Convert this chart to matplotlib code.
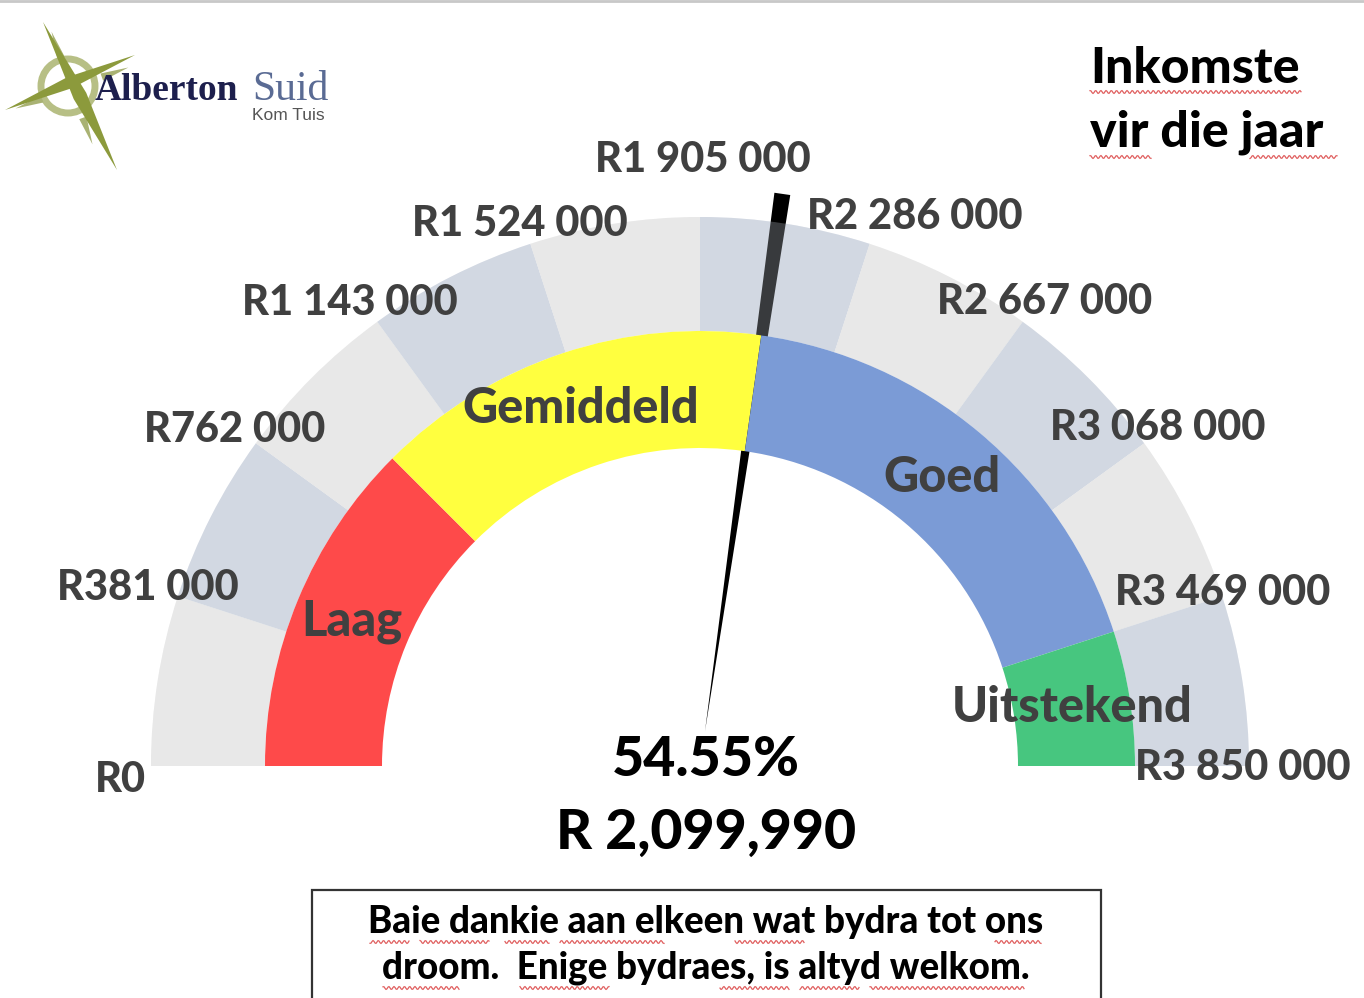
import numpy as np
import matplotlib.pyplot as plt
from matplotlib.patches import Wedge, Polygon, Rectangle, Circle

plt.rcParams['font.family'] = ['Lato', 'DejaVu Sans']

# data
TICK_FRACS = [0.0, 0.1, 0.2, 0.3, 0.4, 0.5, 0.6, 0.7, 0.8, 0.9, 1.0]
TICK_LABELS = ["R0", "R381 000", "R762 000", "R1 143 000", "R1 524 000", "R1 905 000",
               "R2 286 000", "R2 667 000", "R3 068 000", "R3 469 000", "R3 850 000"]
BAND_NAMES = ["Laag", "Gemiddeld", "Goed", "Uitstekend"]
BAND_EDGES = [0.0, 0.25, 0.545, 0.90, 1.0]
BAND_COLORS = ["#fe4a4a", "#ffff3f", "#7b9bd6", "#47c67f"]
PCT = 54.55
RAISED = "R 2,099,990"

# layout (pixel-like units, y measured up)
H = 998
CX, CY = 700, H - 766
R_IN, R_MID, R_OUT = 318, 435, 549
LABEL_R = 585
NUDGE = [(5, -14), (4, -3), (8, -8), (-6, -10), (1, -14), (3, 21),
         (34, -7), (1, -9), (-16, -6), (-34, -8), (-42, -2)]
GREYS = ["#e8e8e8", "#d2d8e2"]
W = 900


def ang(f):
    return 180.0 - 180.0 * f


def pol(r, a):
    t = np.radians(a)
    return CX + r * np.cos(t), CY + r * np.sin(t)


fig = plt.figure(figsize=(13.64, 9.98), dpi=100)
ax = fig.add_axes([0, 0, 1, 1])
ax.set_xlim(0, 1364)
ax.set_ylim(0, H)
ax.axis('off')

# top rule
ax.plot([0, 1364], [H - 1, H - 1], color="#c8c8c8", lw=2)

# grey scale ring
for i in range(10):
    a1, a0 = ang(TICK_FRACS[i]), ang(TICK_FRACS[i + 1])
    ax.add_patch(Wedge((CX, CY), R_OUT, a0, a1, width=R_OUT - R_MID,
                       facecolor=GREYS[i % 2], edgecolor='none', zorder=1))

# needle
va = ang(PCT / 100)
t = np.radians(va)
px, py = -np.sin(t), np.cos(t)
bx, by = pol(35, va)
tx, ty = pol(578, va)
ax.add_patch(Polygon([(bx, by), (tx + 8 * px, ty + 8 * py), (tx - 8 * px, ty - 8 * py)],
                     closed=True, facecolor='black', edgecolor='none', zorder=3))

# translucent grey over needle inside the scale ring
for i in range(10):
    a1, a0 = ang(TICK_FRACS[i]), ang(TICK_FRACS[i + 1])
    ax.add_patch(Wedge((CX, CY), R_OUT, a0, a1, width=R_OUT - R_MID,
                       facecolor=GREYS[i % 2], edgecolor='none', alpha=0.27, zorder=4))

# coloured bands
for i, name in enumerate(BAND_NAMES):
    a1, a0 = ang(BAND_EDGES[i]), ang(BAND_EDGES[i + 1])
    ax.add_patch(Wedge((CX, CY), R_MID, a0, a1, width=R_MID - R_IN,
                       facecolor=BAND_COLORS[i], edgecolor='none', zorder=5))
    mx, my = pol((R_MID + R_IN) / 2, ang((BAND_EDGES[i] + BAND_EDGES[i + 1]) / 2))
    ax.text(mx, my, name, ha='center', va='center', fontsize=35, fontweight=W,
            color='#404040', zorder=7)

# tick labels
for f, lab, (dx, dy) in zip(TICK_FRACS, TICK_LABELS, NUDGE):
    x, y = pol(LABEL_R, ang(f))
    ax.text(x + dx, y + dy, lab, ha='center', va='center', fontsize=30,
            fontweight=W, color='#404040', zorder=7)

# centre values
ax.text(706, H - 760, f"{PCT:.2f}%", ha='center', va='center', fontsize=40,
        fontweight=W, color='black', zorder=7)
ax.text(706, H - 833, RAISED, ha='center', va='center', fontsize=40,
        fontweight=W, color='black', zorder=7)

# title
ax.text(1090, H - 68, "Inkomste", ha='left', va='center', fontsize=36,
        fontweight=W, color='black')
ax.text(1090, H - 132, "vir die jaar", ha='left', va='center', fontsize=36,
        fontweight=W, color='black')


def wavy(x0, x1, y):
    xs = np.arange(x0, x1, 1.0)
    ax.plot(xs, y + 1.5 * np.sin(xs * 1.2), color='#e06060', lw=0.9, zorder=8)


wavy(1090, 1302, H - 92)
wavy(1090, 1152, H - 157)
wavy(1250, 1338, H - 157)

# message box
ax.add_patch(Rectangle((312, -5), 789, H - 890 + 5, facecolor='white',
                       edgecolor='#333333', lw=1.6, zorder=6))
ax.text(706, H - 922, "Baie dankie aan elkeen wat bydra tot ons", ha='center',
        va='center', fontsize=26.5, fontweight=W, color='black', zorder=7)
ax.text(706, H - 968, "droom.  Enige bydraes, is altyd welkom.", ha='center',
        va='center', fontsize=26.5, fontweight=W, color='black', zorder=7)
for x0, x1 in [(370, 410), (420, 490), (505, 550), (560, 665), (735, 805), (995, 1042)]:
    wavy(x0, x1, H - 942)
for x0, x1 in [(383, 460), (520, 610), (720, 790), (800, 860), (870, 1025)]:
    wavy(x0, x1, H - 988)

# logo
OLIVE = "#8c9a3c"
ax.add_patch(Circle((68, H - 86), 27, facecolor='none', edgecolor='#b7bf85', lw=5, zorder=2))
for (x0, y0), (x1, y1), w in [((43, 22), (117, 170), 7), ((5, 110), (135, 55), 6)]:
    mx, my = (x0 + x1) / 2, (y0 + y1) / 2
    dx, dy = x1 - x0, y1 - y0
    n = np.hypot(dx, dy)
    nx, ny = -dy / n * w, dx / n * w
    ax.add_patch(Polygon([(x0, H - y0), (mx + nx, H - (my + ny)), (x1, H - y1),
                          (mx - nx, H - (my - ny))], closed=True,
                         facecolor=OLIVE, edgecolor='none', zorder=3))
for a in [20, 110, 200, 290]:
    t = np.radians(a)
    ox, oy = 72, H - 88
    tip = (ox + 60 * np.cos(t), oy + 60 * np.sin(t))
    b1 = (ox + 32 * np.cos(t + 0.12), oy + 32 * np.sin(t + 0.12))
    b2 = (ox + 32 * np.cos(t - 0.12), oy + 32 * np.sin(t - 0.12))
    ax.add_patch(Polygon([tip, b1, b2], closed=True, facecolor='#a9b273',
                         edgecolor='none', zorder=2))
ax.text(95, H - 90, "Alberton", ha='left', va='center', fontsize=27,
        fontweight='bold', family='Liberation Serif', color='#1d1f4d', zorder=4)
ax.text(252, H - 90, "Suid", ha='left', va='center', fontsize=30,
        family='Liberation Serif', color='#5a6b94', zorder=4)
ax.text(252, H - 115, "Kom Tuis", ha='left', va='center', fontsize=12.5,
        family='Liberation Sans', color='#555555', zorder=4)

fig.savefig("out.png", dpi=100)
